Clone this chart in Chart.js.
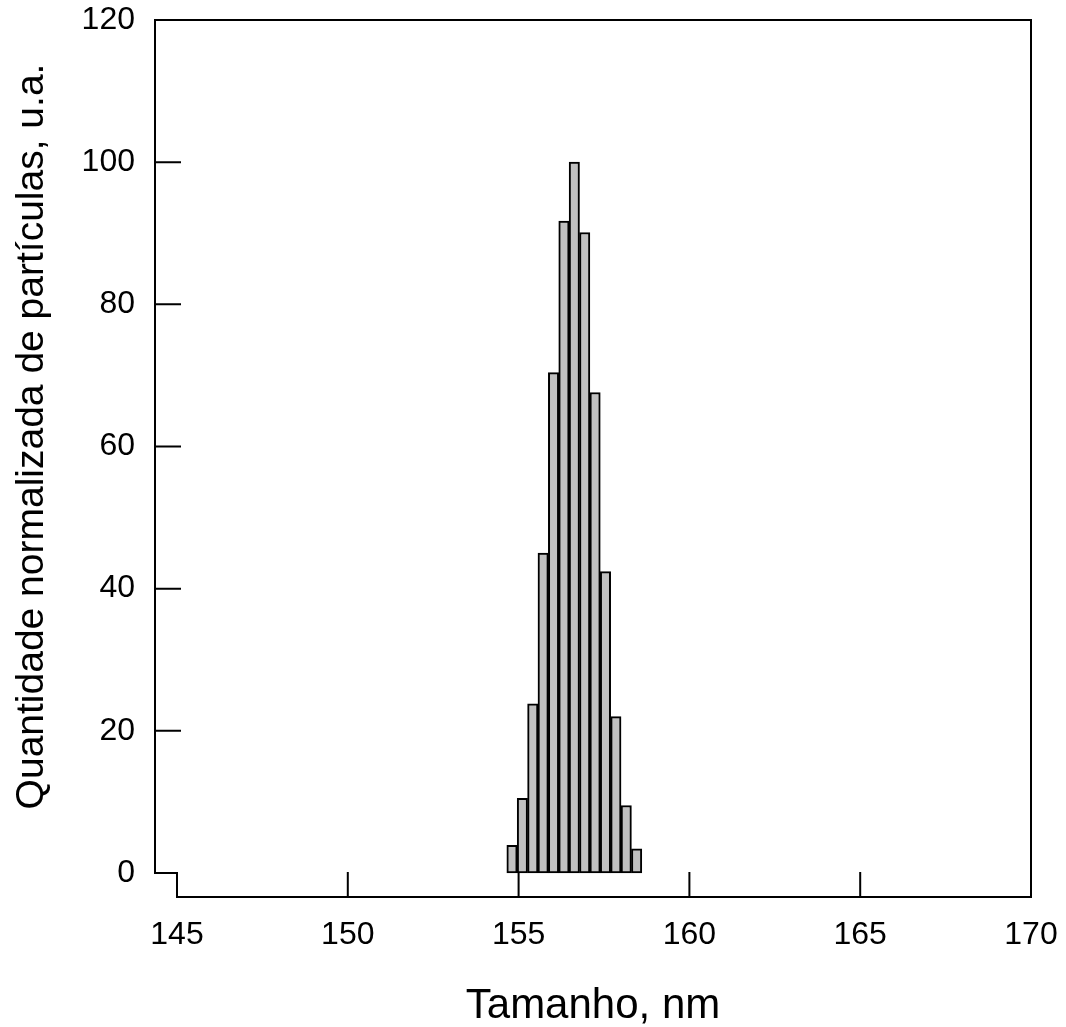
<!DOCTYPE html>
<html>
<head>
<meta charset="utf-8">
<script src="https://cdn.jsdelivr.net/npm/chart.js@4/dist/chart.umd.min.js"></script>
<style>
  html, body { margin: 0; padding: 0; background: #fff; }
  canvas { display: block; }
</style>
</head>
<body>
<canvas id="sizeChart" width="1066" height="1027"></canvas>
<script>
// bin centres (nm) and normalised counts
const binCenters = [154.807, 155.111, 155.415, 155.719, 156.023, 156.327, 156.631,
                    156.935, 157.239, 157.543, 157.847, 158.151, 158.455];
const counts = [3.9, 10.5, 23.8, 45.0, 70.4, 91.7, 100, 90.1, 67.6, 42.4, 22.0, 9.5, 3.4];
const xTicks = [145, 150, 155, 160, 165, 170];
const yTicks = [0, 20, 40, 60, 80, 100, 120];
const yTitle = "Quantidade normalizada de partículas, u.a.";

const fontFamily = "'Liberation Sans', Arial, Helvetica, sans-serif";

// draws the box with the offset corner, inward ticks and the y title
const framePlugin = {
  id: "frame",
  afterDraw(chart) {
    const { ctx, chartArea } = chart;
    const xs = chart.scales.x;
    const ys = chart.scales.y;
    const y0 = ys.getPixelForValue(yTicks[0]);
    const x0 = xs.getPixelForValue(xTicks[0]);
    ctx.save();
    ctx.strokeStyle = "#000";
    ctx.lineWidth = 2;
    ctx.lineCap = "square";
    ctx.beginPath();
    ctx.moveTo(chartArea.left, chartArea.top);
    ctx.lineTo(chartArea.left, y0);
    ctx.lineTo(x0, y0);
    ctx.lineTo(x0, chartArea.bottom);
    ctx.lineTo(chartArea.right, chartArea.bottom);
    ctx.lineTo(chartArea.right, chartArea.top);
    ctx.closePath();
    ctx.stroke();

    ctx.beginPath();
    yTicks.slice(1, -1).forEach(v => {
      const y = ys.getPixelForValue(v);
      ctx.moveTo(chartArea.left, y);
      ctx.lineTo(chartArea.left + 25, y);
    });
    xTicks.slice(1, -1).forEach(v => {
      const x = xs.getPixelForValue(v);
      ctx.moveTo(x, chartArea.bottom);
      ctx.lineTo(x, chartArea.bottom - 24);
    });
    ctx.stroke();

    // y title sits a bit above the middle of the axis in the original
    ctx.translate(32, (y0 + chartArea.top) / 2 - 10);
    ctx.rotate(-Math.PI / 2);
    ctx.fillStyle = "#000";
    ctx.font = "39px " + fontFamily;
    ctx.textAlign = "center";
    ctx.textBaseline = "middle";
    ctx.fillText(yTitle, 0, 0);
    ctx.restore();
  }
};

new Chart(document.getElementById("sizeChart"), {
  type: "bar",
  data: {
    datasets: [
      {
        data: binCenters.map((x, i) => ({ x: x, y: counts[i] })),
        backgroundColor: "#c0c0c0",
        borderColor: "#000",
        borderWidth: 2,
        borderSkipped: false,
        barPercentage: 1,
        categoryPercentage: 1,
      },
    ],
  },
  options: {
    responsive: false,
    animation: false,
    devicePixelRatio: 1,
    layout: { padding: { top: 20, right: 35, bottom: 0, left: 0 } },
    plugins: {
      legend: { display: false },
      tooltip: { enabled: false },
    },
    scales: {
      x: {
        type: "linear",
        offset: false,
        min: 144.356,
        max: 170,
        grid: { display: false, drawTicks: false, offset: false },
        border: { display: false },
        afterBuildTicks: scale => { scale.ticks = xTicks.map(v => ({ value: v })); },
        afterFit: scale => {
          scale.height = 130;
          scale.paddingLeft = 0;
          scale.paddingRight = 0;
        },
        ticks: {
          padding: 19,
          color: "#000",
          maxRotation: 0,
          autoSkip: false,
          font: { family: fontFamily, size: 32 },
        },
        title: {
          display: true,
          text: "Tamanho, nm",
          color: "#000",
          padding: { top: 0, bottom: 0 },
          font: { family: fontFamily, size: 42, lineHeight: 1 },
        },
      },
      y: {
        min: -3.377,
        max: 120,
        grid: { display: false, drawTicks: false },
        border: { display: false },
        afterBuildTicks: scale => { scale.ticks = yTicks.map(v => ({ value: v })); },
        afterFit: scale => {
          scale.width = 155;
          scale.paddingTop = 0;
          scale.paddingBottom = 0;
        },
        ticks: {
          padding: 20,
          color: "#000",
          autoSkip: false,
          font: { family: fontFamily, size: 32 },
        },
      },
    },
  },
  plugins: [framePlugin],
});
</script>
</body>
</html>
